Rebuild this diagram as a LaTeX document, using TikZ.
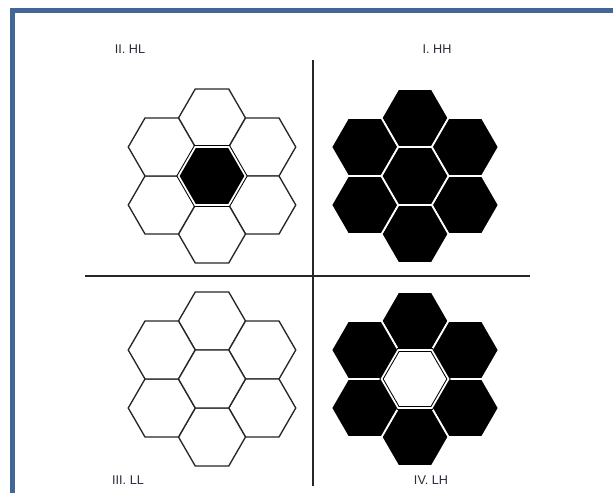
\documentclass[tikz,border=0pt]{standalone}
\usepackage{fontspec}
\setsansfont{Liberation Sans}
\usetikzlibrary{shapes.geometric}
\definecolor{frameblue}{HTML}{41679A}
\definecolor{labelgrey}{HTML}{2A2A3A}

\begin{document}
\begin{tikzpicture}[x=0.75pt,y=-0.75pt,font=\sffamily\fontsize{9.5}{11}\selectfont,
  hexw/.style={regular polygon,regular polygon sides=6,minimum size=50.25pt,inner sep=0pt,outer sep=0pt,draw=black!85,line width=1pt,fill=white},
  hexb/.style={hexw,draw=white,line width=1.3pt,fill=black},
  hexc/.style={regular polygon,regular polygon sides=6,minimum size=50.25pt,inner sep=0pt,outer sep=0pt,draw=black,line width=0.75pt,double=white,double distance=1.3pt},
  divider/.style={draw=black!85,line width=1.1pt},
  quad/.style={text=labelgrey}]
  \useasboundingbox (0,0) rectangle (613,493);
  \draw[frameblue,line width=3.75pt] (12.5,493) -- (12.5,10.5) -- (613,10.5);
  % II. HL
  \begin{scope}[shift={(212,176)}]
    \foreach \dx/\dy [count=\i] in {0/-58,50.25/-29,50.25/29,0/58,-50.25/29,-50.25/-29}
      \node[hexw] (hl\i) at (\dx,\dy) {};
    \node[hexc,fill=black] (hl0) at (0,0) {};
  \end{scope}
  % I. HH
  \begin{scope}[shift={(415,176)}]
    \foreach \dx/\dy [count=\i] in {0/-58,50.25/-29,50.25/29,0/58,-50.25/29,-50.25/-29}
      \node[hexb] (hh\i) at (\dx,\dy) {};
    \node[hexb] (hh0) at (0,0) {};
  \end{scope}
  % III. LL
  \begin{scope}[shift={(212,379)}]
    \foreach \dx/\dy [count=\i] in {0/-58,50.25/-29,50.25/29,0/58,-50.25/29,-50.25/-29}
      \node[hexw] (ll\i) at (\dx,\dy) {};
    \node[hexw] (ll0) at (0,0) {};
  \end{scope}
  % IV. LH
  \begin{scope}[shift={(415,379)}]
    \foreach \dx/\dy [count=\i] in {0/-58,50.25/-29,50.25/29,0/58,-50.25/29,-50.25/-29}
      \node[hexb] (lh\i) at (\dx,\dy) {};
    \node[hexc,fill=white] (lh0) at (0,0) {};
  \end{scope}
  \coordinate (vtop) at (313,60);
  \coordinate (vbot) at (313,486);
  \coordinate (hleft) at (85,276);
  \coordinate (hright) at (530,276);
  \draw[divider] (vtop) -- (vbot);
  \draw[divider] (hleft) -- (hright);
  \node[quad] (lblhl) at (130,49) {II. HL};
  \node[quad] (lblhh) at (437,49) {I. HH};
  \node[quad] (lblll) at (128,480) {III. LL};
  \node[quad] (lbllh) at (431,480) {IV. LH};
\end{tikzpicture}
\end{document}
